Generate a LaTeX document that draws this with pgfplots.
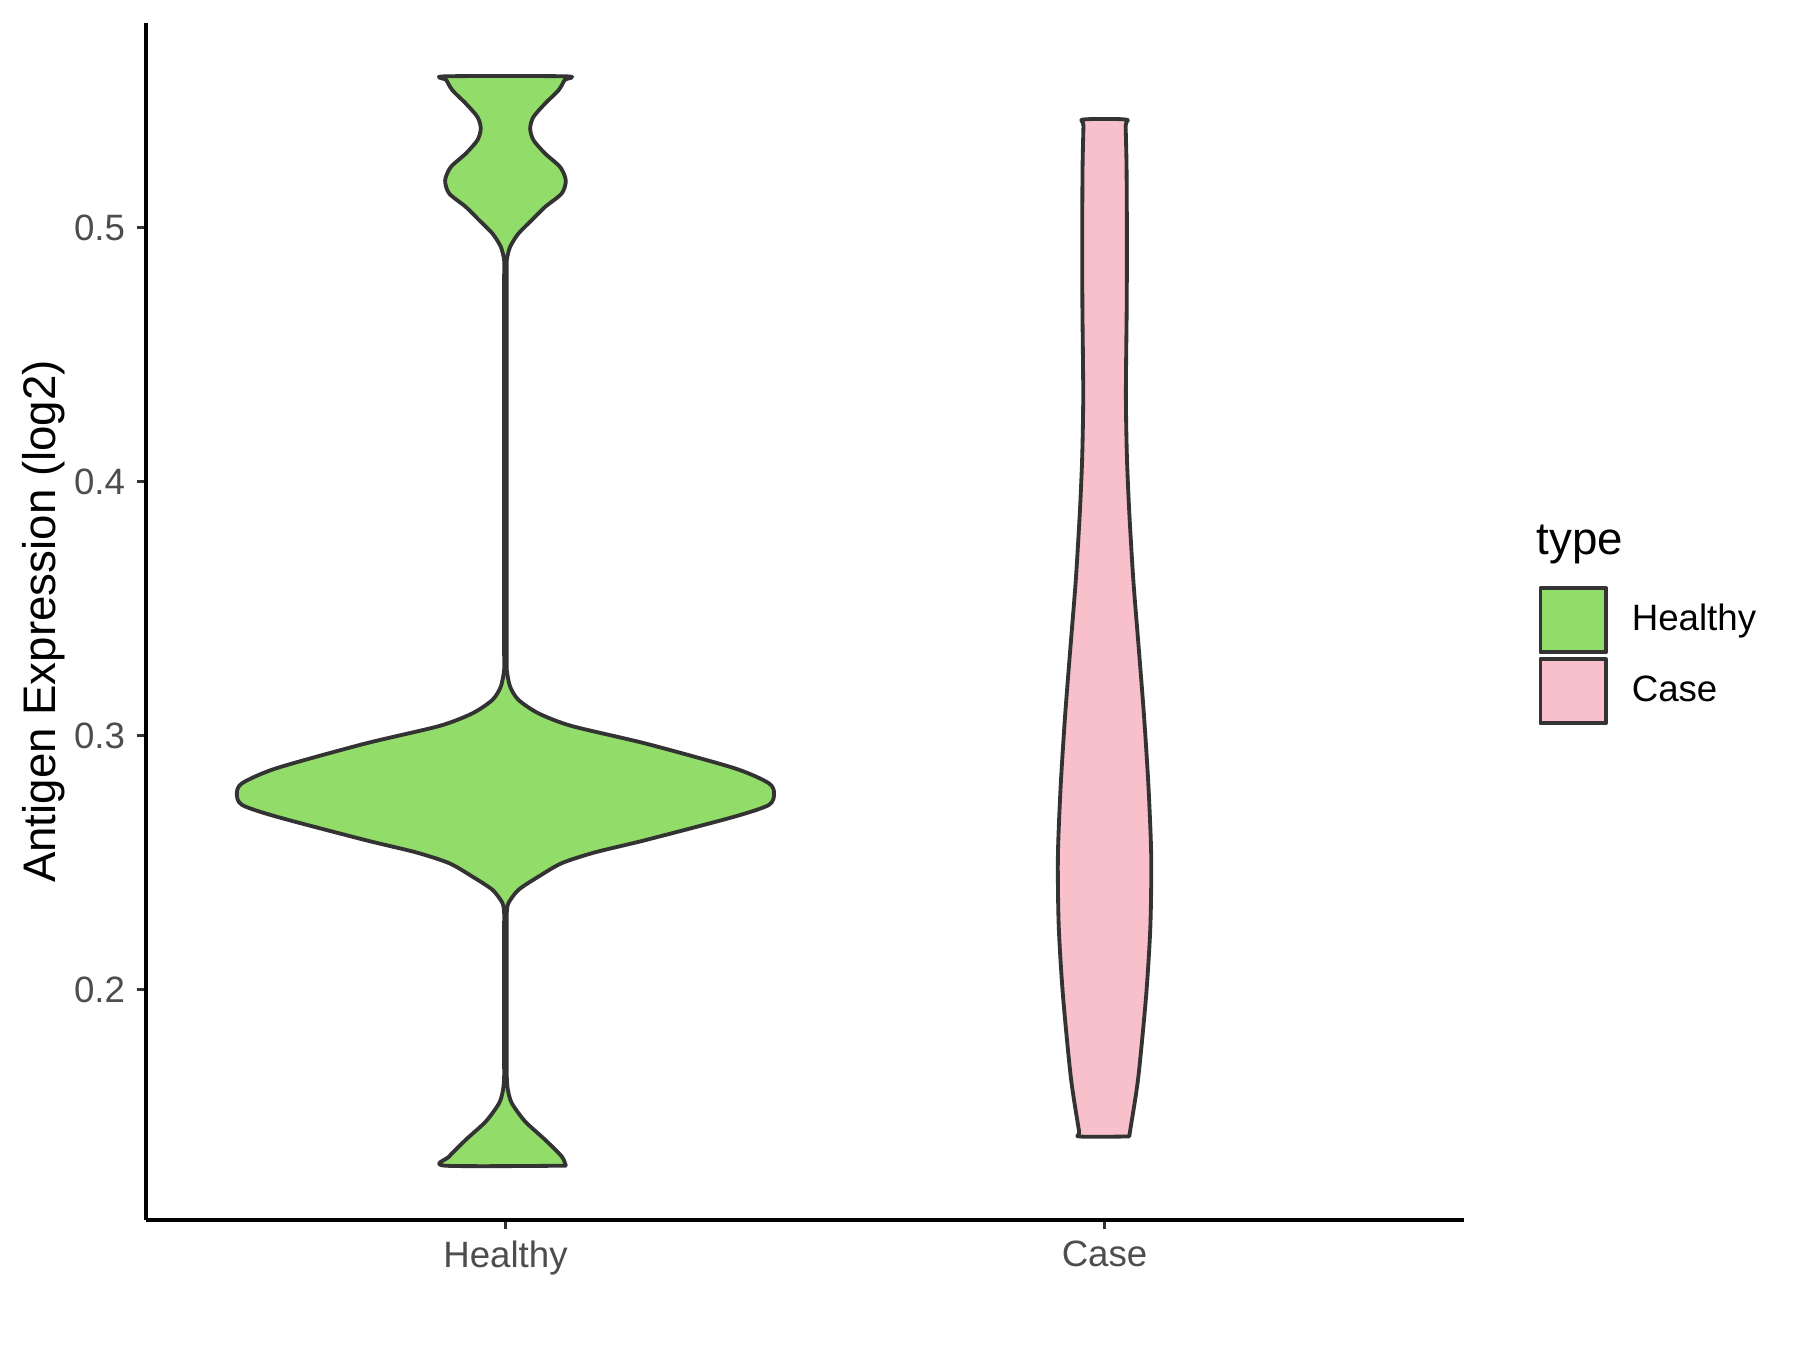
\documentclass[border=0pt]{standalone}
\usepackage{pgfplots}
\pgfplotsset{compat=1.18}
\usepackage{fontspec}
\setmainfont{Liberation Sans}

\definecolor{hgreen}{HTML}{92DC6A}
\definecolor{cpink}{HTML}{F7C0CB}
\definecolor{outline}{HTML}{333333}
\definecolor{labgray}{HTML}{4D4D4D}

\begin{document}
\begin{tikzpicture}
\useasboundingbox (0,0) rectangle (540pt,405pt);
\begin{axis}[
    at={(43.8pt,39pt)}, anchor=south west,
    scale only axis, width=395.4pt, height=359.1pt,
    xmin=0.4, xmax=2.6, ymin=0.1092, ymax=0.5805,
    axis x line=bottom, axis y line=left,
    axis line style={-, line width=1.0pt, black},
    xtick={1,2}, xticklabels={Healthy,Case},
    ytick={0.2,0.3,0.4,0.5},
    yticklabel style={/pgf/number format/.cd, fixed, fixed zerofill, precision=1},
    /pgf/number format/assume math mode=true,
    tick align=outside, major tick length=2.76pt,
    tick style={line width=1.0pt, color=outline},
    ticklabel style={font=\fontsize{11}{13}\selectfont, text=labgray},
    ylabel={Antigen Expression (log2)},
    ylabel style={font=\fontsize{13.7}{16}\selectfont, at={(axis description cs:-0.0685,0.5)}, anchor=base},
    legend style={at={(axis description cs:1.0561,0.530)}, anchor=north west,
        draw=none, fill=none, inner sep=0pt, row sep=1.0pt, column sep=7.2pt,
        font=\fontsize{11}{13}\selectfont, nodes={inner sep=0pt}},
    legend cell align=left,
    legend image code/.code={\draw[#1] (0pt,-9.6pt) rectangle (19.6pt,9.6pt);},
    clip=false,
]

% Healthy: outline, signed half-width w around centre 1
\addplot[draw=outline, fill=hgreen, line width=1.15pt, line join=round, line cap=round,
    smooth, tension=0.45]
    table[x expr=1+\thisrow{w}, y=y] {
y w
0.1306 0.1007
0.1342 0.0940
0.1408 0.0662
0.1480 0.0328
0.1552 0.0106
0.1605 0.0040
0.1657 0.0022
0.1700 0.0022
0.1770 0.0022
0.1900 0.0022
0.2080 0.0022
0.2200 0.0022
0.2260 0.0022
0.2300 0.0022
0.2340 0.0050
0.2392 0.0217
0.2444 0.0551
0.2497 0.0940
0.2540 0.1500
0.2589 0.2357
0.2680 0.3820
0.2726 0.4395
0.2770 0.4484
0.2812 0.4395
0.2871 0.3820
0.2967 0.2357
0.3037 0.1107
0.3087 0.0551
0.3140 0.0217
0.3192 0.0078
0.3258 0.0022
0.3320 0.0022
0.3420 0.0022
0.3600 0.0022
0.3900 0.0022
0.4250 0.0022
0.4550 0.0022
0.4720 0.0022
0.4810 0.0022
0.4871 0.0022
0.4924 0.0078
0.4976 0.0217
0.5029 0.0440
0.5081 0.0662
0.5134 0.0940
0.5186 0.1007
0.5238 0.0912
0.5291 0.0662
0.5344 0.0467
0.5390 0.0412
0.5435 0.0467
0.5488 0.0662
0.5540 0.0885
0.5580 0.0985
0.5595 0.1007
0.5595 -0.1007
0.5580 -0.0985
0.5540 -0.0885
0.5488 -0.0662
0.5435 -0.0467
0.5390 -0.0412
0.5344 -0.0467
0.5291 -0.0662
0.5238 -0.0912
0.5186 -0.1007
0.5134 -0.0940
0.5081 -0.0662
0.5029 -0.0440
0.4976 -0.0217
0.4924 -0.0078
0.4871 -0.0022
0.4810 -0.0022
0.4720 -0.0022
0.4550 -0.0022
0.4250 -0.0022
0.3900 -0.0022
0.3600 -0.0022
0.3420 -0.0022
0.3320 -0.0022
0.3258 -0.0022
0.3192 -0.0078
0.3140 -0.0217
0.3087 -0.0551
0.3037 -0.1107
0.2967 -0.2357
0.2871 -0.3820
0.2812 -0.4395
0.2770 -0.4484
0.2726 -0.4395
0.2680 -0.3820
0.2589 -0.2357
0.2540 -0.1500
0.2497 -0.0940
0.2444 -0.0551
0.2392 -0.0217
0.2340 -0.0050
0.2300 -0.0022
0.2260 -0.0022
0.2200 -0.0022
0.2080 -0.0022
0.1900 -0.0022
0.1770 -0.0022
0.1700 -0.0022
0.1657 -0.0022
0.1605 -0.0040
0.1552 -0.0106
0.1480 -0.0328
0.1408 -0.0662
0.1342 -0.0940
0.1306 -0.1007
0.1306 0.1007
};
\addlegendentry{Healthy}

% Case: outline around centre 2
\addplot[draw=outline, fill=cpink, line width=1.15pt, line join=round, line cap=round,
    smooth, tension=0.45]
    table[x expr=2+\thisrow{w}, y=y] {
y w
0.1421 0.0412
0.1445 0.0428
0.1652 0.0562
0.1978 0.0695
0.2250 0.0765
0.2522 0.0779
0.2794 0.0734
0.3066 0.0662
0.3337 0.0573
0.3609 0.0481
0.3881 0.0412
0.4098 0.0373
0.4343 0.0356
0.4696 0.0370
0.4968 0.0373
0.5240 0.0367
0.5400 0.0352
0.5425 0.0350
0.5425 -0.0350
0.5400 -0.0352
0.5240 -0.0367
0.4968 -0.0373
0.4696 -0.0370
0.4343 -0.0356
0.4098 -0.0373
0.3881 -0.0412
0.3609 -0.0481
0.3337 -0.0573
0.3066 -0.0662
0.2794 -0.0734
0.2522 -0.0779
0.2250 -0.0765
0.1978 -0.0695
0.1652 -0.0562
0.1445 -0.0428
0.1421 -0.0412
0.1421 0.0412
};
\addlegendentry{Case}

\node[anchor=base west, font=\fontsize{13.7}{16}\selectfont, inner sep=0pt]
    at (axis description cs:1.0546,0.5558) {type};
\end{axis}
\end{tikzpicture}
\end{document}
